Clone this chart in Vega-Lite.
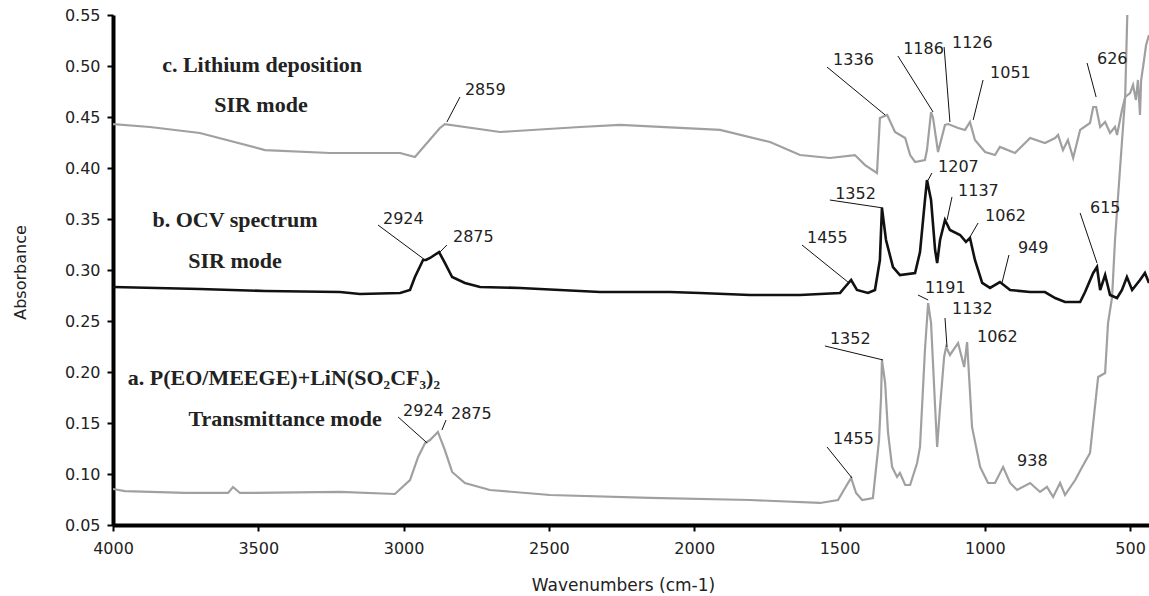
{
  "$schema": "https://vega.github.io/schema/vega-lite/v6.json",
  "width": 1036,
  "height": 510,
  "autosize": {"type": "none"},
  "padding": {"left": 113, "top": 15, "right": 0, "bottom": 71},
  "background": "white",
  "config": {"view": {"stroke": null}},
  "datasets": {
    "a": [
      {"wn": 4000, "abs": 0.0853}, {"wn": 3959, "abs": 0.0833}, {"wn": 3752, "abs": 0.0814}, {"wn": 3604, "abs": 0.0814},
      {"wn": 3587, "abs": 0.0873}, {"wn": 3563, "abs": 0.0814}, {"wn": 3219, "abs": 0.0824}, {"wn": 3030, "abs": 0.0804},
      {"wn": 2978, "abs": 0.0941}, {"wn": 2950, "abs": 0.1167}, {"wn": 2926, "abs": 0.1304}, {"wn": 2909, "abs": 0.1333},
      {"wn": 2882, "abs": 0.1412}, {"wn": 2858, "abs": 0.1235}, {"wn": 2833, "abs": 0.1020}, {"wn": 2789, "abs": 0.0912},
      {"wn": 2703, "abs": 0.0843}, {"wn": 2496, "abs": 0.0794}, {"wn": 2152, "abs": 0.0765}, {"wn": 1808, "abs": 0.0745},
      {"wn": 1567, "abs": 0.0716}, {"wn": 1505, "abs": 0.0745}, {"wn": 1481, "abs": 0.0863}, {"wn": 1460, "abs": 0.0961},
      {"wn": 1443, "abs": 0.0814}, {"wn": 1422, "abs": 0.0745}, {"wn": 1385, "abs": 0.0765}, {"wn": 1364, "abs": 0.1333},
      {"wn": 1357, "abs": 0.1755}, {"wn": 1354, "abs": 0.2118}, {"wn": 1343, "abs": 0.1892}, {"wn": 1333, "abs": 0.1402},
      {"wn": 1319, "abs": 0.1069}, {"wn": 1302, "abs": 0.0971}, {"wn": 1292, "abs": 0.1010}, {"wn": 1274, "abs": 0.0892},
      {"wn": 1257, "abs": 0.0892}, {"wn": 1233, "abs": 0.1108}, {"wn": 1223, "abs": 0.1265}, {"wn": 1206, "abs": 0.2216},
      {"wn": 1195, "abs": 0.2676}, {"wn": 1185, "abs": 0.2480}, {"wn": 1171, "abs": 0.1657}, {"wn": 1164, "abs": 0.1265},
      {"wn": 1154, "abs": 0.1657}, {"wn": 1140, "abs": 0.2147}, {"wn": 1133, "abs": 0.2245}, {"wn": 1120, "abs": 0.2167},
      {"wn": 1092, "abs": 0.2284}, {"wn": 1071, "abs": 0.2049}, {"wn": 1061, "abs": 0.2294}, {"wn": 1044, "abs": 0.1461},
      {"wn": 1016, "abs": 0.1069}, {"wn": 989, "abs": 0.0912}, {"wn": 965, "abs": 0.0912}, {"wn": 937, "abs": 0.1069},
      {"wn": 913, "abs": 0.0912}, {"wn": 889, "abs": 0.0843}, {"wn": 844, "abs": 0.0912}, {"wn": 810, "abs": 0.0824},
      {"wn": 786, "abs": 0.0873}, {"wn": 765, "abs": 0.0775}, {"wn": 741, "abs": 0.0912}, {"wn": 724, "abs": 0.0794},
      {"wn": 689, "abs": 0.0941}, {"wn": 665, "abs": 0.1069}, {"wn": 638, "abs": 0.1206}, {"wn": 621, "abs": 0.1657},
      {"wn": 610, "abs": 0.1951}, {"wn": 586, "abs": 0.1990}, {"wn": 576, "abs": 0.2480}, {"wn": 562, "abs": 0.2735},
      {"wn": 552, "abs": 0.3294}, {"wn": 535, "abs": 0.3980}, {"wn": 517, "abs": 0.4696}, {"wn": 507, "abs": 0.58},
      {"wn": 435, "abs": 0.58}
    ],
    "b": [
      {"wn": 4000, "abs": 0.2833}, {"wn": 3701, "abs": 0.2814}, {"wn": 3477, "abs": 0.2794}, {"wn": 3219, "abs": 0.2784},
      {"wn": 3150, "abs": 0.2765}, {"wn": 3012, "abs": 0.2775}, {"wn": 2978, "abs": 0.2804}, {"wn": 2961, "abs": 0.2931},
      {"wn": 2933, "abs": 0.3098}, {"wn": 2923, "abs": 0.3098}, {"wn": 2909, "abs": 0.3118}, {"wn": 2878, "abs": 0.3176},
      {"wn": 2858, "abs": 0.3069}, {"wn": 2833, "abs": 0.2931}, {"wn": 2789, "abs": 0.2873}, {"wn": 2737, "abs": 0.2833},
      {"wn": 2599, "abs": 0.2824}, {"wn": 2462, "abs": 0.2804}, {"wn": 2324, "abs": 0.2784}, {"wn": 2083, "abs": 0.2784},
      {"wn": 1980, "abs": 0.2775}, {"wn": 1808, "abs": 0.2755}, {"wn": 1636, "abs": 0.2755}, {"wn": 1498, "abs": 0.2775},
      {"wn": 1481, "abs": 0.2833}, {"wn": 1460, "abs": 0.2902}, {"wn": 1440, "abs": 0.2804}, {"wn": 1402, "abs": 0.2775},
      {"wn": 1378, "abs": 0.2804}, {"wn": 1361, "abs": 0.3098}, {"wn": 1354, "abs": 0.3608}, {"wn": 1340, "abs": 0.3294},
      {"wn": 1316, "abs": 0.3029}, {"wn": 1292, "abs": 0.2951}, {"wn": 1240, "abs": 0.2971}, {"wn": 1223, "abs": 0.3176},
      {"wn": 1206, "abs": 0.3686}, {"wn": 1199, "abs": 0.3882}, {"wn": 1185, "abs": 0.3686}, {"wn": 1171, "abs": 0.3196},
      {"wn": 1164, "abs": 0.3069}, {"wn": 1154, "abs": 0.3294}, {"wn": 1137, "abs": 0.3490}, {"wn": 1120, "abs": 0.3392},
      {"wn": 1085, "abs": 0.3343}, {"wn": 1065, "abs": 0.3275}, {"wn": 1051, "abs": 0.3314}, {"wn": 1034, "abs": 0.3098},
      {"wn": 1009, "abs": 0.2873}, {"wn": 982, "abs": 0.2824}, {"wn": 948, "abs": 0.2882}, {"wn": 913, "abs": 0.2804},
      {"wn": 844, "abs": 0.2784}, {"wn": 793, "abs": 0.2784}, {"wn": 758, "abs": 0.2725}, {"wn": 724, "abs": 0.2686},
      {"wn": 672, "abs": 0.2686}, {"wn": 655, "abs": 0.2784}, {"wn": 627, "abs": 0.2971}, {"wn": 614, "abs": 0.3029},
      {"wn": 603, "abs": 0.2804}, {"wn": 586, "abs": 0.2951}, {"wn": 569, "abs": 0.2755}, {"wn": 545, "abs": 0.2725},
      {"wn": 528, "abs": 0.2804}, {"wn": 511, "abs": 0.2931}, {"wn": 493, "abs": 0.2804}, {"wn": 466, "abs": 0.2902},
      {"wn": 449, "abs": 0.2971}, {"wn": 435, "abs": 0.2873}
    ],
    "c": [
      {"wn": 4000, "abs": 0.4431}, {"wn": 3873, "abs": 0.4402}, {"wn": 3701, "abs": 0.4343}, {"wn": 3477, "abs": 0.4176},
      {"wn": 3253, "abs": 0.4147}, {"wn": 3012, "abs": 0.4147}, {"wn": 2961, "abs": 0.4108}, {"wn": 2875, "abs": 0.4392},
      {"wn": 2858, "abs": 0.4431}, {"wn": 2668, "abs": 0.4353}, {"wn": 2393, "abs": 0.4402}, {"wn": 2255, "abs": 0.4422},
      {"wn": 1911, "abs": 0.4373}, {"wn": 1739, "abs": 0.4255}, {"wn": 1636, "abs": 0.4127}, {"wn": 1533, "abs": 0.4098},
      {"wn": 1447, "abs": 0.4127}, {"wn": 1412, "abs": 0.4029}, {"wn": 1371, "abs": 0.3951}, {"wn": 1361, "abs": 0.4490},
      {"wn": 1336, "abs": 0.4520}, {"wn": 1309, "abs": 0.4353}, {"wn": 1274, "abs": 0.4294}, {"wn": 1257, "abs": 0.4127},
      {"wn": 1240, "abs": 0.4059}, {"wn": 1206, "abs": 0.4078}, {"wn": 1199, "abs": 0.4176}, {"wn": 1185, "abs": 0.4549},
      {"wn": 1178, "abs": 0.4490}, {"wn": 1161, "abs": 0.4157}, {"wn": 1137, "abs": 0.4422}, {"wn": 1126, "abs": 0.4431},
      {"wn": 1092, "abs": 0.4392}, {"wn": 1068, "abs": 0.4373}, {"wn": 1051, "abs": 0.4451}, {"wn": 1034, "abs": 0.4275},
      {"wn": 999, "abs": 0.4157}, {"wn": 965, "abs": 0.4127}, {"wn": 948, "abs": 0.4206}, {"wn": 896, "abs": 0.4147},
      {"wn": 844, "abs": 0.4294}, {"wn": 793, "abs": 0.4245}, {"wn": 758, "abs": 0.4294}, {"wn": 748, "abs": 0.4324},
      {"wn": 731, "abs": 0.4176}, {"wn": 714, "abs": 0.4275}, {"wn": 696, "abs": 0.4098}, {"wn": 672, "abs": 0.4373},
      {"wn": 638, "abs": 0.4441}, {"wn": 627, "abs": 0.4598}, {"wn": 617, "abs": 0.4598}, {"wn": 603, "abs": 0.4402},
      {"wn": 586, "abs": 0.4451}, {"wn": 569, "abs": 0.4343}, {"wn": 552, "abs": 0.4402}, {"wn": 545, "abs": 0.4324},
      {"wn": 528, "abs": 0.4569}, {"wn": 517, "abs": 0.4696}, {"wn": 500, "abs": 0.4735}, {"wn": 490, "abs": 0.4814},
      {"wn": 480, "abs": 0.4667}, {"wn": 473, "abs": 0.4863}, {"wn": 466, "abs": 0.4520}, {"wn": 462, "abs": 0.4863},
      {"wn": 452, "abs": 0.5059}, {"wn": 445, "abs": 0.5206}, {"wn": 435, "abs": 0.5304}
    ],
    "leaders": [
      {"wn": 2806, "abs": 0.4696, "wn2": 2851, "abs2": 0.4451},
      {"wn": 1543, "abs": 0.4990, "wn2": 1343, "abs2": 0.4520},
      {"wn": 1299, "abs": 0.5098, "wn2": 1178, "abs2": 0.4549},
      {"wn": 1140, "abs": 0.5186, "wn2": 1120, "abs2": 0.4451},
      {"wn": 1006, "abs": 0.4863, "wn2": 1040, "abs2": 0.4471},
      {"wn": 648, "abs": 0.5029, "wn2": 617, "abs2": 0.4696},
      {"wn": 3088, "abs": 0.3441, "wn2": 2926, "abs2": 0.3098},
      {"wn": 2851, "abs": 0.3245, "wn2": 2875, "abs2": 0.3176},
      {"wn": 1629, "abs": 0.3245, "wn2": 1471, "abs2": 0.2882},
      {"wn": 1533, "abs": 0.3686, "wn2": 1350, "abs2": 0.3608},
      {"wn": 1182, "abs": 0.3951, "wn2": 1195, "abs2": 0.3882},
      {"wn": 1113, "abs": 0.3716, "wn2": 1130, "abs2": 0.3490},
      {"wn": 1023, "abs": 0.3461, "wn2": 1051, "abs2": 0.3324},
      {"wn": 917, "abs": 0.3147, "wn2": 941, "abs2": 0.2873},
      {"wn": 672, "abs": 0.3559, "wn2": 614, "abs2": 0.3069},
      {"wn": 3019, "abs": 0.1559, "wn2": 2919, "abs2": 0.1304},
      {"wn": 2854, "abs": 0.1529, "wn2": 2868, "abs2": 0.1431},
      {"wn": 1543, "abs": 0.1265, "wn2": 1457, "abs2": 0.0961},
      {"wn": 1550, "abs": 0.2255, "wn2": 1350, "abs2": 0.2118},
      {"wn": 1230, "abs": 0.2755, "wn2": 1195, "abs2": 0.2706},
      {"wn": 1137, "abs": 0.2529, "wn2": 1130, "abs2": 0.2245}
    ],
    "peaks": [
      {"wn": 2789, "abs": 0.4716, "label": "2859"},
      {"wn": 1522, "abs": 0.5010, "label": "1336"},
      {"wn": 1281, "abs": 0.5118, "label": "1186"},
      {"wn": 1113, "abs": 0.5176, "label": "1126"},
      {"wn": 982, "abs": 0.4882, "label": "1051"},
      {"wn": 614, "abs": 0.5020, "label": "626"},
      {"wn": 3071, "abs": 0.3451, "label": "2924"},
      {"wn": 2830, "abs": 0.3275, "label": "2875"},
      {"wn": 1612, "abs": 0.3265, "label": "1455"},
      {"wn": 1515, "abs": 0.3696, "label": "1352"},
      {"wn": 1161, "abs": 0.3961, "label": "1207"},
      {"wn": 1092, "abs": 0.3725, "label": "1137"},
      {"wn": 999, "abs": 0.3480, "label": "1062"},
      {"wn": 886, "abs": 0.3167, "label": "949"},
      {"wn": 638, "abs": 0.3559, "label": "615"},
      {"wn": 3002, "abs": 0.1569, "label": "2924"},
      {"wn": 2837, "abs": 0.1539, "label": "2875"},
      {"wn": 1522, "abs": 0.1294, "label": "1455"},
      {"wn": 1533, "abs": 0.2275, "label": "1352"},
      {"wn": 1206, "abs": 0.2775, "label": "1191"},
      {"wn": 1113, "abs": 0.2569, "label": "1132"},
      {"wn": 1027, "abs": 0.2294, "label": "1062"},
      {"wn": 889, "abs": 0.1078, "label": "938"}
    ],
    "titles": [
      {"wn": 3487, "abs": 0.4941, "label": "c. Lithium deposition"},
      {"wn": 3491, "abs": 0.4549, "label": "SIR mode"},
      {"wn": 3580, "abs": 0.3422, "label": "b. OCV spectrum"},
      {"wn": 3580, "abs": 0.3020, "label": "SIR mode"},
      {"wn": 3412, "abs": 0.1873, "label": "a. P(EO/MEEGE)+LiN(SO₂CF₃)₂"},
      {"wn": 3408, "abs": 0.1471, "label": "Transmittance mode"}
    ]
  },
  "encoding": {
    "x": {
      "field": "wn", "type": "quantitative",
      "scale": {"domain": [435, 4000], "reverse": true, "nice": false, "zero": false},
      "axis": {
        "title": "Wavenumbers (cm-1)",
        "values": [4000, 3500, 3000, 2500, 2000, 1500, 1000, 500],
        "format": "d", "grid": false,
        "domainColor": "#000", "domainWidth": 4,
        "tickColor": "#000", "tickWidth": 2, "tickSize": 6,
        "labelPadding": 9, "labelFont": "DejaVu Sans", "labelFontSize": 16, "labelColor": "#222",
        "labelFlush": false, "labelOverlap": false,
        "titleFont": "DejaVu Sans", "titleFontSize": 17, "titleFontWeight": "normal", "titleColor": "#222",
        "titleX": 510, "titleY": 65, "titleBaseline": "alphabetic", "titleAlign": "center"
      }
    },
    "y": {
      "field": "abs", "type": "quantitative",
      "scale": {"domain": [0.05, 0.55], "nice": false, "zero": false},
      "axis": {
        "title": "Absorbance",
        "values": [0.05, 0.1, 0.15, 0.2, 0.25, 0.3, 0.35, 0.4, 0.45, 0.5, 0.55],
        "format": ".2f", "grid": false,
        "domainColor": "#000", "domainWidth": 4,
        "tickColor": "#000", "tickWidth": 2, "tickSize": 6,
        "labelPadding": 7, "labelFont": "DejaVu Sans", "labelFontSize": 16, "labelColor": "#222",
        "labelFlush": false, "labelOverlap": false,
        "titleFont": "DejaVu Sans", "titleFontSize": 16, "titleFontWeight": "normal", "titleColor": "#222",
        "titleX": -93, "titleY": 257, "titleAngle": -90, "titleBaseline": "middle", "titleAlign": "center"
      }
    }
  },
  "layer": [
    {"data": {"name": "a"}, "mark": {"type": "line", "color": "#a0a0a0", "strokeWidth": 2.2, "clip": true}},
    {"data": {"name": "c"}, "mark": {"type": "line", "color": "#a0a0a0", "strokeWidth": 2.2, "clip": true}},
    {"data": {"name": "b"}, "mark": {"type": "line", "color": "#111111", "strokeWidth": 2.6, "clip": true}},
    {
      "data": {"name": "leaders"},
      "mark": {"type": "rule", "color": "#111", "strokeWidth": 1},
      "encoding": {"x2": {"field": "wn2"}, "y2": {"field": "abs2"}}
    },
    {
      "data": {"name": "peaks"},
      "mark": {"type": "text", "align": "left", "baseline": "alphabetic", "font": "DejaVu Sans", "fontSize": 16, "color": "#222"},
      "encoding": {"text": {"field": "label", "type": "nominal"}}
    },
    {
      "data": {"name": "titles"},
      "mark": {"type": "text", "align": "center", "baseline": "alphabetic", "font": "Liberation Serif", "fontWeight": "bold", "fontSize": 22, "color": "#222"},
      "encoding": {"text": {"field": "label", "type": "nominal"}}
    }
  ]
}
